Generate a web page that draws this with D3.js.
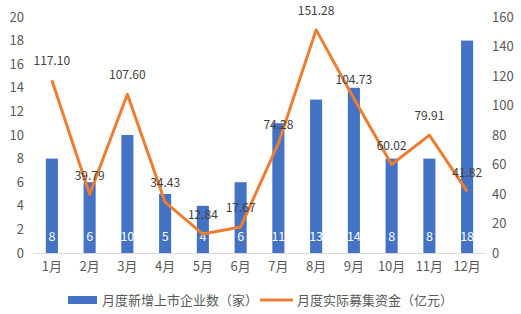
<!DOCTYPE html>
<html><head><meta charset="utf-8">
<script src="https://cdn.jsdelivr.net/npm/d3@7"></script>
<style>body{margin:0;background:#fff;}svg{display:block;font-family:"Noto Sans CJK SC","Noto Sans",sans-serif;}</style>
</head><body>
<svg id="c" width="521" height="314"></svg>
<script>
const months = ["1月","2月","3月","4月","5月","6月","7月","8月","9月","10月","11月","12月"];
const companies = [8,6,10,5,4,6,11,13,14,8,8,18];
const funds = [117.10,39.79,107.60,34.43,12.84,17.67,74.28,151.28,104.73,60.02,79.91,41.82];
const leftTicks = [0,2,4,6,8,10,12,14,16,18,20];
const rightTicks = [0,20,40,60,80,100,120,140,160];
const seriesNames = ["月度新增上市企业数（家）","月度实际募集资金（亿元）"];

(function(){
const svg = d3.select("#c");
const pl = 33, pr = 486, pt = 17, pb = 253;
const x = d3.scaleBand().domain(months).range([pl, pr]).paddingInner(0.68).paddingOuter(0.34);
const yL = d3.scaleLinear().domain([0,20]).range([pb, pt]);
const yR = d3.scaleLinear().domain([0,160]).range([pb, pt]);
const xc = d => x(d) + x.bandwidth()/2;

svg.append("g").selectAll("rect").data(companies).join("rect")
  .attr("x",(d,i)=>x(months[i])).attr("width",x.bandwidth())
  .attr("y",d=>yL(d)).attr("height",d=>pb-yL(d)).attr("fill","#4472C4");
svg.append("line").attr("x1",pl).attr("x2",pr).attr("y1",pb+0.5).attr("y2",pb+0.5).attr("stroke","#D9D9D9");
svg.append("g").selectAll("text").data(companies).join("text")
  .attr("x",(d,i)=>xc(months[i])).attr("y",237).attr("dy","0.35em")
  .attr("text-anchor","middle").attr("fill","#fff").attr("font-size",12.5).text(d=>d);

const line = d3.line().x((d,i)=>xc(months[i])).y(d=>yR(d));
svg.append("path").datum(funds).attr("d",line).attr("fill","none")
  .attr("stroke","#ED7D31").attr("stroke-width",3).attr("stroke-linejoin","round");
svg.append("g").selectAll("text").data(funds).join("text")
  .attr("x",(d,i)=>xc(months[i])).attr("y",d=>yR(d)-19).attr("dy","0.35em")
  .attr("text-anchor","middle").attr("fill","#404040").attr("font-size",12).text(d=>d.toFixed(2));

const axL = d3.axisLeft(yL).tickValues(leftTicks).tickSize(0).tickPadding(9);
const gL = svg.append("g").attr("transform",`translate(${pl},0)`).call(axL);
const axR = d3.axisRight(yR).tickValues(rightTicks).tickSize(0).tickPadding(6);
const gR = svg.append("g").attr("transform",`translate(${pr},0)`).call(axR);
const axB = d3.axisBottom(x).tickSize(0).tickPadding(9);
const gB = svg.append("g").attr("transform",`translate(0,${pb})`).call(axB);
[gL,gR,gB].forEach(g=>{g.select(".domain").remove();
  g.selectAll("text").attr("fill","#595959").attr("font-size",13).attr("font-family","\"Noto Sans CJK SC\",sans-serif");});

const lg = svg.append("g").attr("font-size",13).attr("fill","#595959");
lg.append("rect").attr("x",68).attr("y",296).attr("width",29).attr("height",8).attr("fill","#4472C4");
lg.append("text").attr("x",102).attr("y",300).attr("dy","0.35em").attr("fill","#595959").text(seriesNames[0]);
lg.append("line").attr("x1",260).attr("x2",293).attr("y1",300).attr("y2",300).attr("stroke","#ED7D31").attr("stroke-width",3);
lg.append("text").attr("x",297).attr("y",300).attr("dy","0.35em").attr("fill","#595959").text(seriesNames[1]);
})();
</script>
</body></html>
